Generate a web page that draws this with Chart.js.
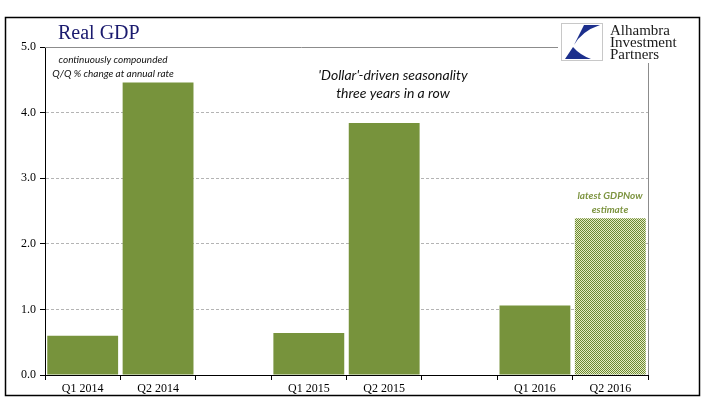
<!DOCTYPE html>
<html>
<head>
<meta charset="utf-8">
<script src="https://cdn.jsdelivr.net/npm/chart.js@4"></script>
<style>
  html, body { margin: 0; padding: 0; background: #fff; }
  #wrap { position: relative; width: 705px; height: 409px; }
</style>
</head>
<body>
<div id="wrap"><canvas id="gdpChart" width="705" height="409"></canvas></div>
<script>
// Real GDP, continuously compounded Q/Q % change at annual rate
const quarters = ['Q1 2014', 'Q2 2014', '', 'Q1 2015', 'Q2 2015', '', 'Q1 2016', 'Q2 2016'];
const gdpActual = [0.60, 4.46, null, 0.64, 3.84, null, 1.06, null];
const gdpNowEstimate = [null, null, null, null, null, null, null, 2.39];
const yTicks = [0, 1, 2, 3, 4, 5];

const OLIVE = '#77933c';
const serif = '"Liberation Serif", "DejaVu Serif", serif';
const sans = 'Lato, "Open Sans", sans-serif';

// Checkered fill for the GDPNow estimate bar
function makeHatch() {
  const c = document.createElement('canvas');
  c.width = 2; c.height = 2;
  const g = c.getContext('2d');
  g.fillStyle = '#e6edc2';
  g.fillRect(0, 0, 2, 2);
  g.fillStyle = '#6a8833';
  g.fillRect(0, 0, 1, 1);
  g.fillRect(1, 1, 1, 1);
  return g.createPattern(c, 'repeat');
}

// Frame, title, logo and notes
const decorations = {
  id: 'decorations',
  beforeDraw(chart) {
    const ctx = chart.ctx;
    ctx.save();
    ctx.fillStyle = '#fff';
    ctx.fillRect(0, 0, chart.width, chart.height);
    ctx.restore();
  },
  afterDraw(chart) {
    const ctx = chart.ctx;
    const area = chart.chartArea;
    const y = chart.scales.y;
    ctx.save();

    // plot area top and right border
    const topY = Math.round(y.getPixelForValue(5)) + 0.5;
    ctx.strokeStyle = '#8c8c8c';
    ctx.lineWidth = 1;
    ctx.beginPath();
    ctx.moveTo(area.left, topY);
    ctx.lineTo(558, topY);
    ctx.moveTo(Math.round(area.right) + 0.5, 63);
    ctx.lineTo(Math.round(area.right) + 0.5, area.bottom);
    ctx.stroke();

    // outer frame
    ctx.strokeStyle = '#000';
    ctx.lineWidth = 1.5;
    ctx.strokeRect(5.5, 17.5, 694, 378);

    // title
    ctx.fillStyle = '#1a1a6e';
    ctx.font = '20px ' + serif;
    ctx.textBaseline = 'alphabetic';
    ctx.textAlign = 'left';
    ctx.fillText('Real GDP', 58, 39);

    // logo box
    ctx.fillStyle = '#fff';
    ctx.fillRect(561, 23, 42, 38);
    ctx.strokeStyle = '#c8c8c8';
    ctx.lineWidth = 1;
    ctx.strokeRect(561.5, 23.5, 41, 37);
    ctx.fillStyle = '#1c2f8c';
    ctx.beginPath();
    ctx.moveTo(584, 25);
    ctx.lineTo(600, 25);
    ctx.quadraticCurveTo(582, 31, 574, 45);
    ctx.closePath();
    ctx.fill();
    ctx.beginPath();
    ctx.moveTo(573, 47);
    ctx.quadraticCurveTo(580, 55, 591, 59);
    ctx.lineTo(565, 59);
    ctx.closePath();
    ctx.fill();

    ctx.fillStyle = '#1a1a1a';
    ctx.font = '15px ' + serif;
    ctx.fillText('Alhambra', 610, 35);
    ctx.fillText('Investment', 610, 47);
    ctx.fillText('Partners', 610, 59);

    // notes
    ctx.textAlign = 'center';
    ctx.fillStyle = '#111';
    ctx.font = 'italic 10px ' + sans;
    ctx.fillText('continuously compounded', 113, 63);
    ctx.fillText('Q/Q % change at annual rate', 113, 77);

    ctx.font = 'italic 14px ' + sans;
    ctx.fillText("'Dollar'-driven seasonality", 393, 80);
    ctx.fillText('three years in a row', 393, 98);

    ctx.fillStyle = '#7d9440';
    ctx.font = 'bold italic 10px ' + sans;
    ctx.fillText('latest GDPNow', 610, 199);
    ctx.fillText('estimate', 610, 213);

    ctx.restore();
  }
};

new Chart(document.getElementById('gdpChart'), {
  type: 'bar',
  data: {
    labels: quarters,
    datasets: [
      {
        label: 'Real GDP',
        data: gdpActual,
        backgroundColor: OLIVE,
        borderWidth: 0,
        grouped: false,
        barPercentage: 0.94,
        categoryPercentage: 1
      },
      {
        label: 'GDPNow estimate',
        data: gdpNowEstimate,
        backgroundColor: makeHatch(),
        borderWidth: 0,
        grouped: false,
        barPercentage: 0.94,
        categoryPercentage: 1
      }
    ]
  },
  options: {
    responsive: false,
    animation: false,
    devicePixelRatio: 1,
    layout: { padding: { left: 5, right: 57, top: 47, bottom: 0 } },
    plugins: {
      legend: { display: false },
      tooltip: { enabled: false }
    },
    scales: {
      x: {
        afterFit: (s) => { s.height = 34; },
        grid: {
          offset: true,
          drawOnChartArea: false,
          tickLength: 5,
          color: '#000'
        },
        border: { color: '#000', width: 1 },
        ticks: {
          color: '#000',
          font: { family: serif, size: 12 },
          padding: 2,
          maxRotation: 0,
          autoSkip: false
        }
      },
      y: {
        min: 0,
        max: 5,
        afterFit: (s) => { s.width = 40; },
        afterBuildTicks: (s) => { s.ticks = yTicks.map(v => ({ value: v })); },
        grid: {
          color: (c) => (c.tick && c.tick.value > 0 && c.tick.value < 5) ? '#b4b4b4' : 'rgba(0,0,0,0)',
          tickColor: '#000',
          tickLength: 5
        },
        border: { color: '#000', width: 1, dash: [3, 2] },
        ticks: {
          color: '#000',
          font: { family: serif, size: 12 },
          padding: 4,
          callback: (v) => Number(v).toFixed(1)
        }
      }
    }
  },
  plugins: [decorations]
});
</script>
</body>
</html>
